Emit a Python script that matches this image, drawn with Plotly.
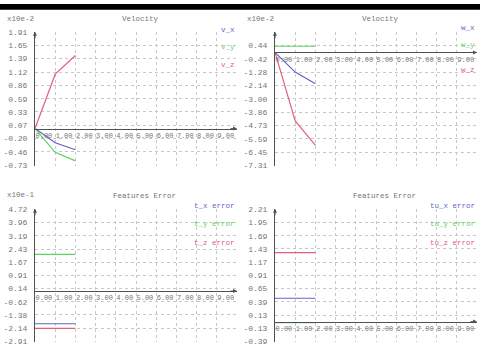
import plotly.graph_objects as go

W, H = 480, 364

# ---------------- data ----------------
steps = [0, 1, 2]

v_x = [0.0, -0.28, -0.42]
v_y = [0.0, -0.47, -0.64]
v_z = [0.0, 1.08, 1.45]

w_x = [0.0, -1.27, -2.03]
w_y = [0.40, 0.40, 0.40]
w_z = [0.0, -4.43, -6.01]

t_x_error = [-1.89, -1.89, -1.89]
t_y_error = [2.12, 2.12, 2.12]
t_z_error = [-2.16, -2.16, -2.16]

tu_x_error = [0.46, 0.46, 0.46]
tu_y_error = [-0.02, -0.02, -0.02]
tu_z_error = [1.36, 1.36, 1.36]

x_tick_labels = ["0.00", "1.00", "2.00", "3.00", "4.00", "5.00", "6.00", "7.00", "8.00", "9.00"]
vel_lin_yticks = ["1.91", "1.65", "1.39", "1.12", "0.86", "0.59", "0.33", "0.07", "-0.20", "-0.46", "-0.73"]
vel_ang_yticks = ["0.44", "-0.42", "-1.28", "-2.14", "-3.00", "-3.86", "-4.73", "-5.59", "-6.45", "-7.31"]
feat_yticks = ["4.72", "3.96", "3.19", "2.43", "1.67", "0.91", "0.14", "-0.62", "-1.38", "-2.14", "-2.91"]
feat_u_yticks = ["2.21", "1.95", "1.69", "1.43", "1.17", "0.91", "0.65", "0.39", "0.13", "-0.13", "-0.39"]

# ---------------- styling ----------------
BLUE = "#6262cc"
GREEN = "#5fd35f"
RED = "#e0607a"
AXIS = "#505050"
GRID = "#c8c8c8"
TXT = "#757575"
FONT = "Liberation Mono"
FS = 7.5

panels = [
    dict(px=(35, 237), ytop=(1.91, 29), ybot=(-0.73, 165), yticks=vel_lin_yticks,
         series=[("v_x", v_x, BLUE), ("v_y", v_y, GREEN), ("v_z", v_z, RED)],
         leg_y=[27, 44, 62], leg_x=237,
         title=("Velocity", 140, 15), scale=("x10e-2", 5, 15)),
    dict(px=(275, 477), ytop=(1.30, 29), ybot=(-7.31, 165), yticks=vel_ang_yticks,
         series=[("w_x", w_x, BLUE), ("w_y", w_y, GREEN), ("w_z", w_z, RED)],
         leg_y=[25, 42, 67], leg_x=477,
         title=("Velocity", 380, 15), scale=("x10e-2", 245, 15)),
    dict(px=(35, 237), ytop=(4.72, 210), ybot=(-2.91, 345), yticks=feat_yticks,
         series=[("t_x error", t_x_error, BLUE), ("t_y error", t_y_error, GREEN),
                 ("t_z error", t_z_error, RED)],
         leg_y=[207, 225, 244], leg_x=237,
         title=("Features Error", 144, 196), scale=("x10e-1", 5, 195)),
    dict(px=(275, 477), ytop=(2.21, 210), ybot=(-0.39, 345), yticks=feat_u_yticks,
         series=[("tu_x error", tu_x_error, BLUE), ("tu_y error", tu_y_error, GREEN),
                 ("tu_z error", tu_z_error, RED)],
         leg_y=[207, 225, 244], leg_x=477,
         title=("Features Error", 384, 196), scale=None),
]

fig = go.Figure()
annotations = []
layout = {}


def pfx(px):
    return px / W


def pfy(py):
    return 1 - py / H


for i, p in enumerate(panels):
    n = "" if i == 0 else str(i + 1)
    xa, ya = "x" + n, "y" + n
    (vt, pt), (vb, pb) = p["ytop"], p["ybot"]
    span = vt - vb
    lo, hi = vb - 0.004 * span, vt + 0.004 * span

    def py_of(v, vt=vt, pt=pt, vb=vb, pb=pb):
        return pt + (vt - v) / (vt - vb) * (pb - pt)

    ydom = [pfy(py_of(lo)), pfy(py_of(hi))]
    zero_pos = pfy(py_of(0.0))

    for name, vals, col in p["series"]:
        fig.add_trace(go.Scatter(x=steps, y=vals, mode="lines", name=name,
                                 line=dict(color=col, width=1.2),
                                 xaxis=xa, yaxis=ya, showlegend=False))

    layout["xaxis" + n] = dict(
        domain=[pfx(p["px"][0]), pfx(p["px"][1])], range=[0, 10],
        anchor="free", position=zero_pos,
        showline=True, linecolor=AXIS, linewidth=1,
        tickvals=list(range(len(x_tick_labels))), ticktext=x_tick_labels,
        ticks="", ticklabelposition="outside right", tickangle=0,
        showgrid=True, gridcolor=GRID, griddash="dot", gridwidth=1,
        zeroline=False, tickfont=dict(family=FONT, size=7, color=TXT),
        fixedrange=True,
    )
    layout["yaxis" + n] = dict(
        domain=ydom, range=[lo, hi], anchor=xa,
        showline=True, linecolor=AXIS, linewidth=1,
        tickvals=[float(t) for t in p["yticks"]], ticktext=p["yticks"],
        ticks="", ticklabelstandoff=5,
        showgrid=True, gridcolor=GRID, griddash="dot", gridwidth=1,
        zeroline=False, tickfont=dict(family=FONT, size=8, color=TXT),
        fixedrange=True,
    )

    # axis arrowheads
    annotations.append(dict(xref=xa + " domain", yref=ya + " domain", x=0, y=1,
                            ax=0, ay=8, showarrow=True, arrowhead=2, arrowsize=0.8,
                            arrowwidth=1, arrowcolor=AXIS, text=""))
    annotations.append(dict(xref=xa + " domain", yref=ya, x=1, y=0,
                            ax=-8, ay=0, showarrow=True, arrowhead=2, arrowsize=0.8,
                            arrowwidth=1, arrowcolor=AXIS, text=""))

    # legend labels
    for (name, vals, col), ly in zip(p["series"], p["leg_y"]):
        annotations.append(dict(xref="paper", yref="paper", x=pfx(p["leg_x"]), y=pfy(ly),
                                xanchor="right", yanchor="middle", showarrow=False,
                                text=name, font=dict(family=FONT, size=FS, color=col)))

    t, tx, ty = p["title"]
    annotations.append(dict(xref="paper", yref="paper", x=pfx(tx), y=pfy(ty),
                            xanchor="center", yanchor="middle", showarrow=False,
                            text=t, font=dict(family=FONT, size=FS, color=TXT)))
    if p["scale"]:
        s, sx, sy = p["scale"]
        annotations.append(dict(xref="paper", yref="paper", x=pfx(sx), y=pfy(sy),
                                xanchor="left", yanchor="middle", showarrow=False,
                                text=s, font=dict(family=FONT, size=FS, color=TXT)))

fig.update_layout(
    width=W, height=H, autosize=False,
    margin=dict(l=0, r=0, t=0, b=0, pad=0),
    paper_bgcolor="white", plot_bgcolor="white",
    showlegend=False,
    annotations=annotations,
    shapes=[dict(type="rect", xref="paper", yref="paper", x0=0, x1=1,
                 y0=1 - 6 / H, y1=1, fillcolor="black", line=dict(width=0), layer="above")],
    **layout,
)

fig.write_html("out.html", config={"displayModeBar": False},
               post_script="document.body.style.margin='0';document.body.style.overflow='hidden';")
